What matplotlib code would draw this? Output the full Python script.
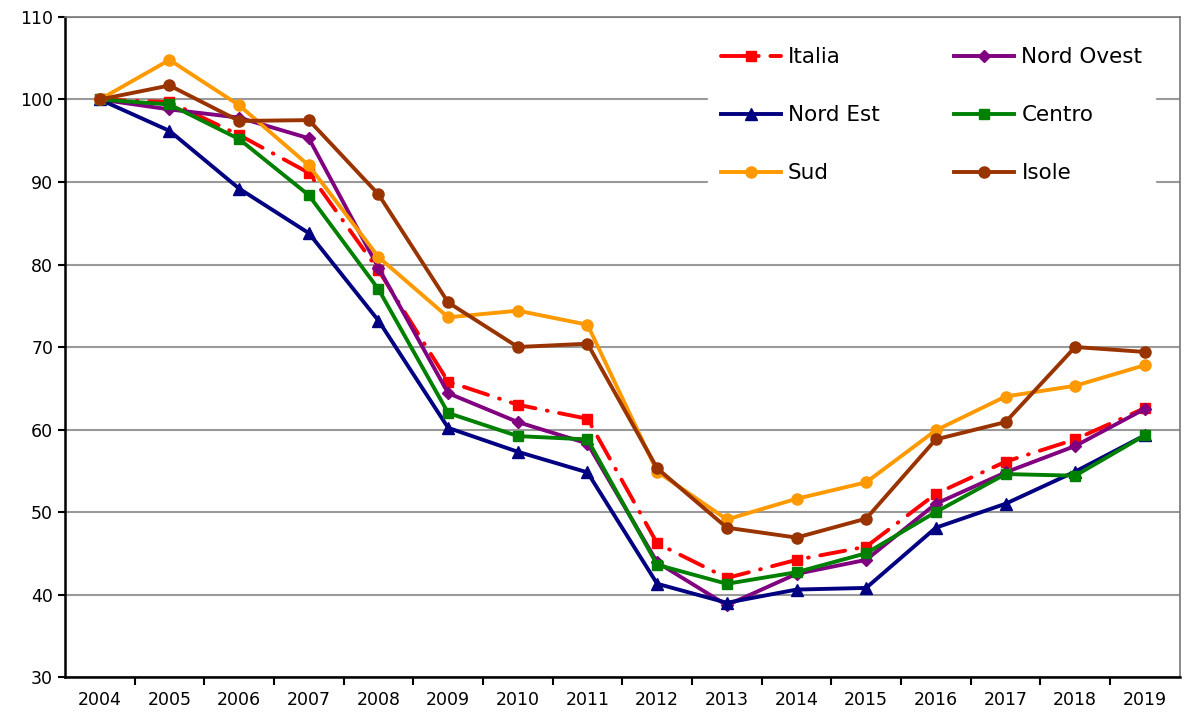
import matplotlib.pyplot as plt
import numpy as np

# index values (2004 = 100)
years = [str(y) for y in range(2004, 2020)]
italia = [100, 99.7, 95.7, 91.1, 79.3, 65.8, 63.0, 61.3, 46.2, 42.0, 44.2, 45.8, 52.2, 56.1, 58.8, 62.6]
nord_ovest = [100, 98.8, 97.8, 95.3, 79.6, 64.4, 60.9, 58.3, 43.9, 38.7, 42.5, 44.2, 51.0, 54.8, 58.0, 62.5]
nord_est = [100, 96.2, 89.2, 83.8, 73.2, 60.2, 57.3, 54.8, 41.3, 39.0, 40.6, 40.8, 48.1, 51.0, 54.9, 59.3]
centro = [100, 99.4, 95.2, 88.4, 77.0, 62.0, 59.2, 58.8, 43.6, 41.3, 42.7, 45.0, 50.0, 54.6, 54.4, 59.3]
sud = [100, 104.8, 99.3, 92.0, 80.9, 73.6, 74.4, 72.7, 54.9, 49.1, 51.6, 53.6, 59.9, 64.0, 65.3, 67.8]
isole = [100, 101.7, 97.4, 97.5, 88.5, 75.4, 70.0, 70.4, 55.3, 48.1, 46.9, 49.2, 58.8, 60.9, 70.0, 69.4]

x = np.arange(len(years))

fig = plt.figure(figsize=(11.88, 7.2), dpi=100)
ax = fig.add_axes([0.0547, 0.0597, 0.9383, 0.9167])

lw = 2.8
ax.plot(x, italia, color="#FF0000", lw=lw, ls=(0, (6.5, 3, 0.2, 3)),
        dash_capstyle="round", marker="s", ms=7.5, label="Italia", zorder=3)
ax.plot(x, nord_ovest, color="#800080", lw=lw, marker="D", ms=6.5, label="Nord Ovest", zorder=4)
ax.plot(x, nord_est, color="#000080", lw=lw, marker="^", ms=8, label="Nord Est", zorder=5)
ax.plot(x, centro, color="#008000", lw=lw, marker="s", ms=7.5, label="Centro", zorder=6)
ax.plot(x, sud, color="#FF9900", lw=lw, marker="o", ms=8, label="Sud", zorder=7)
ax.plot(x, isole, color="#993300", lw=lw, marker="o", ms=8, label="Isole", zorder=8)

ax.set_xlim(-0.5, len(years) - 0.5)
ax.set_ylim(30, 110)
ax.set_yticks(range(30, 111, 10))
ax.set_xticks(x)
ax.set_xticklabels(years)
ax.set_xticks(np.arange(0.5, len(years) - 1, 1), minor=True)
ax.tick_params(axis="x", which="major", length=0, labelsize=12.5, pad=10)
ax.tick_params(axis="x", which="minor", length=6, width=1.5, direction="out")
ax.tick_params(axis="y", length=5, width=1.5, labelsize=12.5)

ax.grid(axis="y", color="#999999", lw=1.5, zorder=0)
ax.set_axisbelow(True)
for s in ["left", "bottom"]:
    ax.spines[s].set_linewidth(1.8)
    ax.spines[s].set_color("black")
for s in ["top", "right"]:
    ax.spines[s].set_linewidth(1.2)
    ax.spines[s].set_color("#777777")

h, l = ax.get_legend_handles_labels()
order = [0, 2, 4, 1, 3, 5]
leg = ax.legend([h[i] for i in order], [l[i] for i in order], ncol=2,
                loc="upper left", bbox_to_anchor=(0.567, 0.990),
                fontsize=15.5, frameon=True, fancybox=False, framealpha=1,
                edgecolor="white", facecolor="white",
                handlelength=2.8, handletextpad=0.33, labelspacing=1.77,
                columnspacing=3.45, borderpad=0.6)
leg.set_zorder(20)

fig.savefig("out.png", dpi=100, facecolor="white")
